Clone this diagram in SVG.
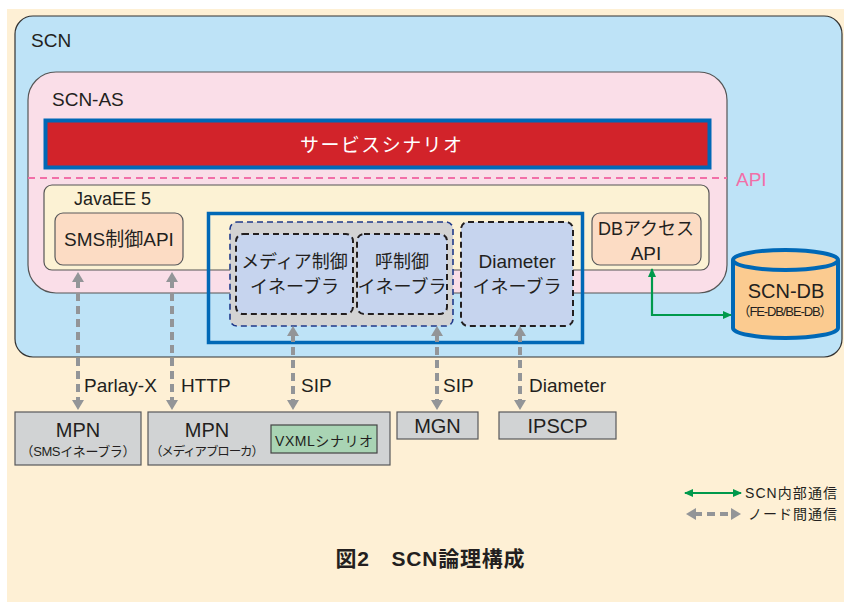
<svg xmlns="http://www.w3.org/2000/svg" width="844" height="602" viewBox="0 0 844 602">
<defs>
<style>
text{font-family:"Liberation Sans","Noto Sans CJK JP",sans-serif;fill:#231F20}
.c{text-anchor:middle}
.gl{fill:none;stroke:#939598;stroke-width:4;stroke-dasharray:8 5}
.gr{fill:none;stroke:#00994C;stroke-width:2.2}
.box{fill:#D1D3D4;stroke:#58595B;stroke-width:1.2}
.api{fill:#FCDCC4;stroke:#58595B;stroke-width:1.2}
.en{fill:#C6D4EE;stroke:#231F20;stroke-width:2;stroke-dasharray:6 4}
</style>
<marker id="ga" viewBox="0 0 10 12" markerWidth="10" markerHeight="12" refX="2" refY="6" orient="auto-start-reverse" markerUnits="userSpaceOnUse"><path d="M0,0 L10,6 L0,12 z" fill="#939598"/></marker>
<marker id="gn" viewBox="0 0 9 8" markerWidth="9" markerHeight="8" refX="8" refY="4" orient="auto-start-reverse" markerUnits="userSpaceOnUse"><path d="M0,0 L9,4 L0,8 z" fill="#00994C"/></marker>
</defs>
<rect x="7" y="9" width="837" height="593" fill="#FEF0D5"/>
<g id="scn">
<rect x="15" y="16" width="827" height="341" rx="18" fill="#BEE3F7" stroke="#333" stroke-width="1.2"/>
<text x="31" y="47" font-size="19">SCN</text>
</g>
<g id="scn-as">
<rect x="28" y="72" width="699" height="221" rx="28" fill="#FADEE8" stroke="#555" stroke-width="1.2"/>
<text x="52" y="106" font-size="19">SCN-AS</text>
</g>
<g id="service-scenario">
<rect x="45.5" y="120.5" width="664" height="47" fill="#D2232A" stroke="#0068B6" stroke-width="4"/>
<text x="381" y="152" font-size="19" class="c" style="fill:#fff" textLength="162">サービスシナリオ</text>
</g>
<g id="api-line">
<line x1="28" y1="178" x2="727" y2="178" stroke="#F26FA8" stroke-width="2" stroke-dasharray="7 5"/>
<text x="736" y="186" font-size="19" style="fill:#F26FA8">API</text>
</g>
<g id="javaee">
<rect x="44" y="185" width="665" height="85" rx="8" fill="#FCF2D4" stroke="#555" stroke-width="1.2"/>
<text x="74" y="205" font-size="18">JavaEE 5</text>
</g>
<g id="sms-api">
<rect x="55" y="213" width="128" height="52" rx="8" class="api"/>
<text x="119" y="246" font-size="19" class="c">SMS制御API</text>
</g>
<g id="db-api">
<rect x="592" y="213" width="109" height="52" rx="8" class="api"/>
<text x="646" y="235" font-size="18" class="c">DBアクセス</text>
<text x="646" y="260" font-size="19" class="c">API</text>
</g>
<g id="enabler-container">
<rect x="208.5" y="213.5" width="374" height="129" fill="none" stroke="#0068B6" stroke-width="3.5"/>
</g>
<g id="sip-group">
<rect x="230" y="222" width="223" height="104" rx="7" fill="#D3D3D3" stroke="#1F3A8A" stroke-width="1.6" stroke-dasharray="6 4"/>
</g>
<g id="media-enabler">
<rect x="236" y="234" width="117" height="80" rx="7" class="en"/>
<text x="294.5" y="268" font-size="18" class="c">メディア制御</text>
<text x="294.5" y="293" font-size="18" class="c">イネーブラ</text>
</g>
<g id="call-enabler">
<rect x="357" y="234" width="90" height="80" rx="7" class="en"/>
<text x="402" y="268" font-size="18" class="c">呼制御</text>
<text x="402" y="293" font-size="18" class="c">イネーブラ</text>
</g>
<g id="diameter-enabler">
<rect x="461" y="222" width="112" height="104" rx="7" class="en"/>
<text x="517" y="268" font-size="19" class="c">Diameter</text>
<text x="517" y="293" font-size="18" class="c">イネーブラ</text>
</g>
<g id="scn-db">
<path d="M733,260 V328 A52.5,10 0 0 0 838,328 V260" fill="#FBCB90" stroke="#0068B6" stroke-width="4"/>
<ellipse cx="785.5" cy="260" rx="52.5" ry="10" fill="#FBCB90" stroke="#0068B6" stroke-width="4"/>
<text x="786" y="298" font-size="20" class="c">SCN-DB</text>
<text x="785" y="316" font-size="13" class="c" textLength="95">（FE-DB/BE-DB）</text>
</g>
<g id="mpn-sms">
<rect x="15" y="412" width="126" height="53" class="box"/>
<text x="78" y="437" font-size="20" class="c">MPN</text>
<text x="78" y="456" font-size="13" class="c" textLength="115">（SMSイネーブラ）</text>
</g>
<g id="mpn-media">
<rect x="148" y="412" width="242" height="53" class="box"/>
<text x="207" y="437" font-size="20" class="c">MPN</text>
<text x="207" y="456" font-size="12.5" class="c" textLength="114">（メディアブローカ）</text>
<g id="vxml">
<rect x="271" y="425" width="106" height="28" fill="#A9D4B4" stroke="#444" stroke-width="1.2"/>
<text x="324" y="446" font-size="14" class="c" textLength="98">VXMLシナリオ</text>
</g>
</g>
<g id="mgn">
<rect x="397" y="412" width="81" height="27" class="box"/>
<text x="437.5" y="433" font-size="20" class="c">MGN</text>
</g>
<g id="ipscp">
<rect x="499" y="412" width="117" height="27" class="box"/>
<text x="557.5" y="433" font-size="20" class="c">IPSCP</text>
</g>
<g id="connectors">
<line x1="78" y1="280" x2="78" y2="402" class="gl" marker-start="url(#ga)" marker-end="url(#ga)"/>
<line x1="172" y1="280" x2="172" y2="402" class="gl" marker-start="url(#ga)" marker-end="url(#ga)"/>
<line x1="293" y1="334" x2="293" y2="402" class="gl" marker-start="url(#ga)" marker-end="url(#ga)"/>
<line x1="437" y1="334" x2="437" y2="402" class="gl" marker-start="url(#ga)" marker-end="url(#ga)"/>
<line x1="520" y1="334" x2="520" y2="402" class="gl" marker-start="url(#ga)" marker-end="url(#ga)"/>
<path d="M652,269 V315 H731" class="gr" marker-start="url(#gn)" marker-end="url(#gn)"/>
<text x="84" y="392" font-size="19">Parlay-X</text>
<text x="181" y="392" font-size="19">HTTP</text>
<text x="301" y="392" font-size="19">SIP</text>
<text x="443" y="392" font-size="19">SIP</text>
<text x="529" y="392" font-size="19">Diameter</text>
</g>
<g id="legend">
<path d="M685,493 H741" class="gr" marker-start="url(#gn)" marker-end="url(#gn)"/>
<text x="745" y="498" font-size="14" textLength="92">SCN内部通信</text>
<line x1="694" y1="514" x2="733" y2="514" class="gl" stroke-dasharray="9 7" marker-start="url(#ga)" marker-end="url(#ga)"/>
<text x="748" y="519" font-size="14" textLength="89">ノード間通信</text>
</g>
<g id="caption">
<text x="430" y="566" font-size="21" font-weight="bold" class="c" textLength="189">図2　SCN論理構成</text>
</g>
</svg>
